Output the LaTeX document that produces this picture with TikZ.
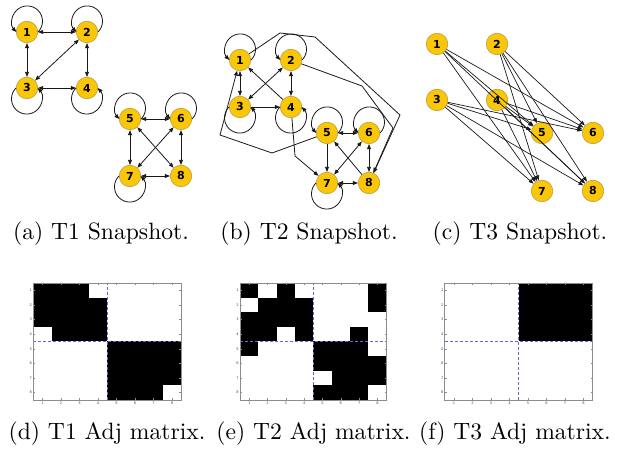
\documentclass[tikz,border=0pt]{standalone}
\usepackage{fontspec}
\newfontfamily\numfont{DejaVu Sans}
\usetikzlibrary{arrows.meta,calc}
\definecolor{gold}{RGB}{250,198,8}
\definecolor{goldedge}{RGB}{175,150,70}
\definecolor{framegray}{RGB}{140,140,140}
\definecolor{dashblue}{RGB}{105,105,205}
\definecolor{edgeblack}{RGB}{25,25,25}
\tikzset{
  vert/.style={circle, fill=gold, draw=goldedge, line width=0.5pt, minimum size=21.6pt, inner sep=0pt,
    font=\numfont\bfseries\fontsize{11}{11}\selectfont},
  arr/.style={-{Triangle[length=5pt,width=3.8pt]}, line width=0.8pt, draw=edgeblack},
  barr/.style={{Triangle[length=5pt,width=3.8pt]}-{Triangle[length=5pt,width=3.8pt]}, line width=0.8pt, draw=edgeblack},
  thinarr/.style={-{Triangle[length=5pt,width=3.6pt]}, line width=0.7pt, draw=edgeblack},
  captext/.style={scale=2.36, inner sep=0pt, font=\normalsize},
  ticklab/.style={inner sep=0pt, font=\numfont\fontsize{3.6}{3.6}\selectfont, text=black!70},
}
\newcommand\lpabove[1]{\draw[arr] (#1.east) arc[start angle=-45,end angle=225,radius=15.27pt];}
\newcommand\lpbelow[1]{\draw[arr] (#1.west) arc[start angle=135,end angle=405,radius=15.27pt];}
\newcommand\adjmat[3]{%
  \begin{scope}[shift={(#1,52)}]
    \foreach \i/\j in {#3}
      \fill[black] ({(\j-1)*#2/8},{117-(\i-1)*14.625}) rectangle ++({#2/8},-14.625);
    \draw[dashblue, dash pattern=on 3pt off 2pt, line width=0.5pt]
      ({#2/2},0) -- ({#2/2},117) (0,58.5) -- (#2,58.5);
    \draw[framegray, line width=0.5pt] (0,0) rectangle (#2,117);
    \foreach \k in {1,...,8} {
      \draw[framegray, line width=0.4pt]
        ({(\k-0.5)*#2/8},0) -- ++(0,2)
        ({(\k-0.5)*#2/8},117) -- ++(0,-2)
        (0,{117-(\k-0.5)*14.625}) -- ++(2,0)
        (#2,{117-(\k-0.5)*14.625}) -- ++(-2,0);
      \node[ticklab, anchor=east] at (-1.2,{117-(\k-0.5)*14.625}) {\k};
      \node[ticklab, anchor=north] at ({(\k-0.5)*#2/8},-2) {\k};
    }
  \end{scope}}
\begin{document}
\begin{tikzpicture}[x=1pt,y=1pt]
\useasboundingbox (0,0) rectangle (618,452);
% ---------- (a) T1 snapshot
\node[vert] (a1) at (27,420) {1};
\node[vert] (a2) at (87,420) {2};
\node[vert] (a3) at (27,364) {3};
\node[vert] (a4) at (87,364) {4};
\node[vert] (a5) at (130,333) {5};
\node[vert] (a6) at (181,333) {6};
\node[vert] (a7) at (130,276) {7};
\node[vert] (a8) at (181,276) {8};
\draw[barr] (a1) -- (a2);
\draw[barr] (a1) -- (a3);
\draw[barr] (a2) -- (a3);
\draw[barr] (a2) -- (a4);
\draw[barr] (a3) -- (a4);
\draw[barr] (a5) -- (a6);
\draw[barr] (a5) -- (a7);
\draw[barr] (a6) -- (a8);
\draw[barr] (a7) -- (a8);
\draw[barr] (a5) -- (a8);
\draw[barr] (a6) -- (a7);
\lpabove{a1}\lpabove{a2}\lpbelow{a3}\lpbelow{a4}
\lpabove{a5}\lpabove{a6}\lpbelow{a7}
% ---------- (b) T2 snapshot
\node[vert] (b1) at (240,392) {1};
\node[vert] (b2) at (291,392) {2};
\node[vert] (b3) at (240,345) {3};
\node[vert] (b4) at (291,345) {4};
\node[vert] (b5) at (327,319) {5};
\node[vert] (b6) at (369,319) {6};
\node[vert] (b7) at (327,269) {7};
\node[vert] (b8) at (369,269) {8};
\coordinate (p18a) at (280,419);
\coordinate (p18b) at (315,415);
\coordinate (p18c) at (400,337);
\coordinate (p28a) at (362,366);
\coordinate (p28b) at (393,324);
\coordinate (p51a) at (272,299);
\coordinate (p51b) at (220,317);
\coordinate (p47a) at (295,296);
\draw[barr] (b1) -- (b3);
\draw[barr] (b2) -- (b3);
\draw[barr] (b2) -- (b4);
\draw[arr] (b3) -- (b4);
\draw[arr] (b4) -- (b1);
\draw[arr] (b1) -- (p18a) -- (p18b) -- (p18c) -- (b8);
\draw[arr] (b2) -- (p28a) -- (p28b) -- (b8);
\draw[arr] (b5) -- (p51a) -- (p51b) -- (b1);
\draw[arr] (b4) -- (p47a) -- (b7);
\draw[barr] (b5) -- (b6);
\draw[arr] (b5) -- (b7);
\draw[barr] (b6) -- (b7);
\draw[barr] (b6) -- (b8);
\draw[barr] (b7) -- (b8);
\draw[arr] (b8) -- (b5);
\lpabove{b1}\lpabove{b2}\lpbelow{b3}\lpbelow{b4}
\lpabove{b5}\lpabove{b6}\lpbelow{b7}
% ---------- (c) T3 snapshot
\node[vert] (c1) at (437,408) {1};
\node[vert] (c2) at (497,408) {2};
\node[vert] (c3) at (437,352) {3};
\node[vert] (c4) at (497,352) {4};
\node[vert] (c5) at (542,319) {5};
\node[vert] (c6) at (593,319) {6};
\node[vert] (c7) at (542,261) {7};
\node[vert] (c8) at (593,261) {8};
\foreach \s in {1,2,3,4} \foreach \t in {5,6,7,8}
  \draw[thinarr] (c\s) -- (c\t);
% ---------- captions row 1
\node[captext] (capa) at (101,218) {(a) T1 Snapshot.};
\node[captext] (capb) at (309,218) {(b) T2 Snapshot.};
\node[captext] (capc) at (520,218) {(c) T3 Snapshot.};
% ---------- adjacency matrices
\adjmat{33.3}{148}{1/1,1/2,1/3,2/1,2/2,2/3,2/4,3/1,3/2,3/3,3/4,4/2,4/3,4/4,5/5,5/6,5/7,5/8,6/5,6/6,6/7,6/8,7/5,7/6,7/7,7/8,8/5,8/6,8/7}
\adjmat{240}{146.7}{1/1,1/3,1/8,2/2,2/3,2/4,2/8,3/1,3/2,3/3,3/4,4/1,4/2,4/4,4/7,5/1,5/5,5/6,5/7,6/5,6/6,6/7,6/8,7/6,7/7,7/8,8/5,8/6,8/7}
\adjmat{444.7}{148}{1/5,1/6,1/7,1/8,2/5,2/6,2/7,2/8,3/5,3/6,3/7,3/8,4/5,4/6,4/7,4/8}
% ---------- captions row 2
\node[captext] (capd) at (107,18) {(d) T1 Adj matrix.};
\node[captext] (cape) at (313.5,18) {(e) T2 Adj matrix.};
\node[captext] (capf) at (515,18) {(f) T3 Adj matrix.};
\end{tikzpicture}
\end{document}
